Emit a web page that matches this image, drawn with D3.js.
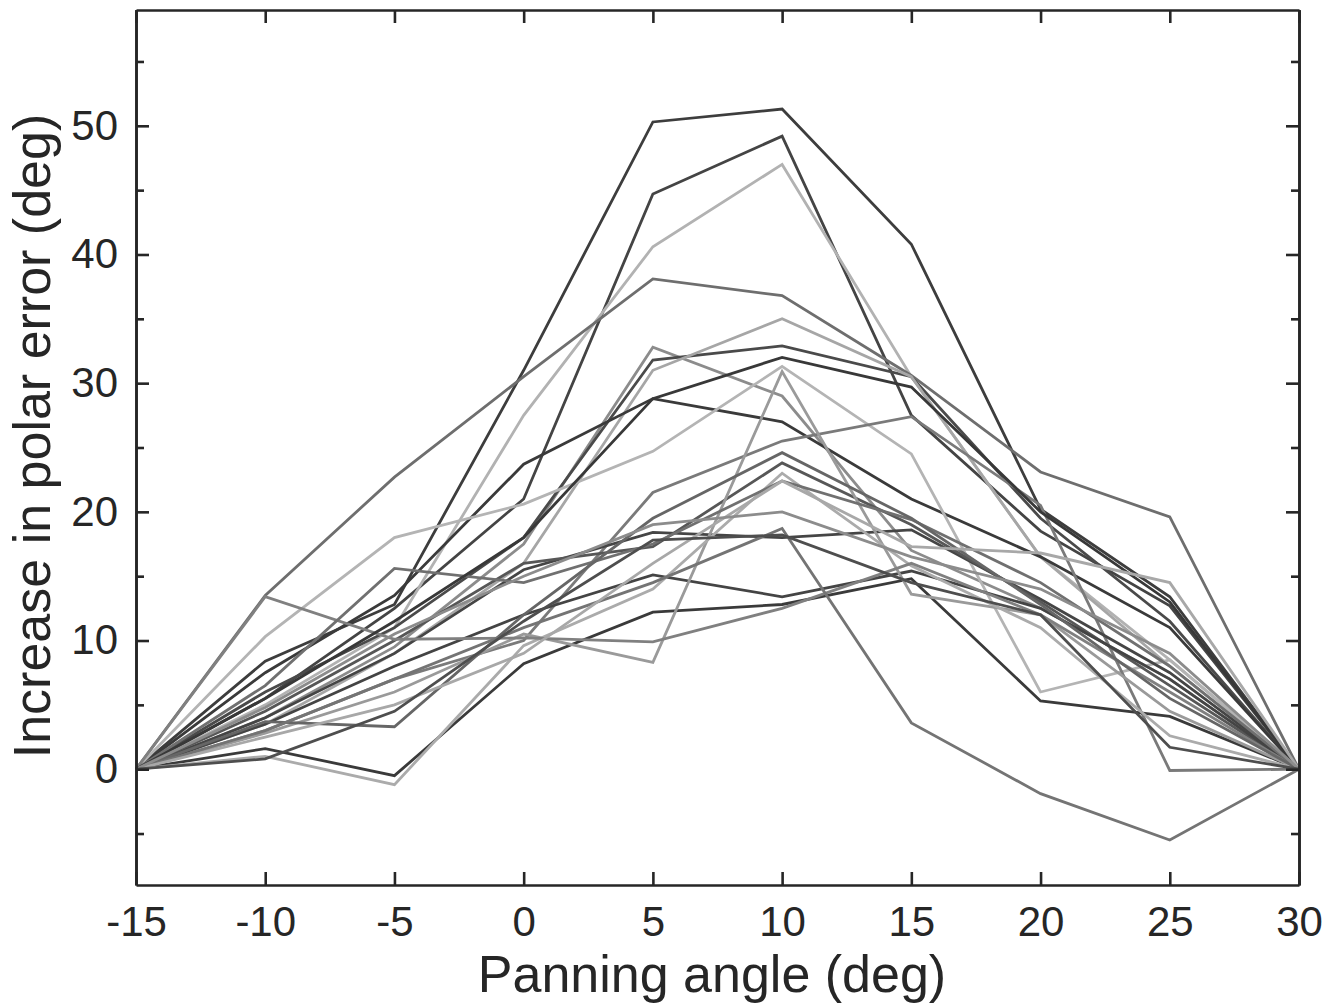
<!DOCTYPE html>
<html>
<head>
<meta charset="utf-8">
<script src="https://cdn.jsdelivr.net/npm/d3@7"></script>
<style>
  body { margin: 0; background: #fff; }
  svg { display: block; }
  .tick text { font-family: "Liberation Sans", Arial, sans-serif; }
</style>
</head>
<body>
<div id="chart"></div>
<script>
// panning angles (deg)
const panAngles = [-15, -10, -5, 0, 5, 10, 15, 20, 25, 30];

// increase in polar error per listener (deg), one row per line
const s01 = [0, 8.4, 12.8, 31.0, 50.3, 51.3, 40.8, 20.2, 13.4, 0];
const s02 = [0, 5.5, 12.5, 21.0, 44.7, 49.2, 27.5, 18.5, 12.7, 0];
const s03 = [0, 5.0, 11.0, 27.5, 40.6, 47.0, 30.5, 16.5, 8.5, 0];
const s04 = [0, 13.5, 22.7, 30.5, 38.1, 36.8, 30.6, 23.1, 19.6, 0];
const s05 = [0, 4.0, 9.5, 17.5, 32.8, 29.0, 17.0, 12.5, 7.0, 0];
const s06 = [0, 6.0, 11.0, 18.0, 31.8, 32.9, 30.5, 19.5, 11.5, 0];
const s07 = [0, 3.5, 9.0, 16.0, 31.0, 35.0, 30.5, 16.5, 8.0, 0];
const s08 = [0, 7.5, 13.5, 23.7, 28.8, 27.0, 21.0, 16.5, 11.0, 0];
const s09 = [0, 10.3, 18.0, 20.6, 24.7, 31.3, 24.5, 6.0, 8.5, 0];
const s10 = [0, 3.0, 7.0, 10.0, 21.5, 25.5, 27.4, 20.5, -0.1, 0];
const s11 = [0, 4.0, 9.0, 15.5, 18.4, 18.0, 18.6, 13.2, 7.5, 0];
const s12 = [0, 4.5, 10.0, 16.0, 17.3, 23.8, 19.0, 13.0, 6.5, 0];
const s13 = [0, 3.5, 8.0, 12.0, 15.1, 13.4, 15.4, 12.5, 7.0, 0];
const s14 = [0, 1.6, -0.5, 8.2, 12.2, 12.8, 14.8, 5.3, 4.1, 0];
const s15 = [0, 2.8, 6.0, 10.5, 8.3, 30.9, 13.6, 12.0, 4.5, 0];
const s16 = [0, 1.0, -1.2, 9.6, 14.0, 23.0, 15.8, 11.0, 2.6, 0];
const s17 = [0, 13.4, 10.1, 10.2, 9.9, 12.5, 16.0, 12.0, 6.0, 0];
const s18 = [0, 6.5, 15.6, 14.5, 17.5, 22.4, 19.4, 14.5, 8.0, 0];
const s19 = [0, 3.7, 3.3, 12.0, 19.5, 24.6, 19.5, 12.8, 5.5, 0];
const s20 = [0, 3.0, 7.0, 11.0, 14.5, 18.7, 3.6, -1.9, -5.5, 0];
const s21 = [0, 5.5, 11.5, 18.0, 28.8, 32.0, 29.7, 20.0, 13.0, 0];
const s22 = [0, 2.5, 5.0, 9.0, 16.0, 22.4, 17.3, 16.8, 14.5, 0];
const s23 = [0, 4.8, 10.5, 15.0, 19.0, 20.0, 16.5, 14.0, 9.0, 0];
const s24 = [0, 0.8, 4.5, 11.5, 17.8, 18.2, 14.5, 12.0, 1.7, 0];
const series = [s01, s02, s03, s04, s05, s06, s07, s08, s09, s10, s11, s12,
                s13, s14, s15, s16, s17, s18, s19, s20, s21, s22, s23, s24];

// grey level of each line
const lineGreys = ["#3d3d3d", "#444444", "#b2b2b2", "#6e6e6e", "#8c8c8c", "#4a4a4a",
                   "#a6a6a6", "#3a3a3a", "#b4b4b4", "#7a7a7a", "#454545", "#575757",
                   "#444444", "#3a3a3a", "#9a9a9a", "#ababab", "#808080", "#707070",
                   "#666666", "#747474", "#383838", "#a8a8a8", "#8c8c8c", "#4e4e4e"];

const xTicks = [-15, -10, -5, 0, 5, 10, 15, 20, 25, 30];
const yTicks = [0, 10, 20, 30, 40, 50];
const yMinorTicks = [-5, 5, 15, 25, 35, 45, 55];

const width = 1334, height = 1004;
const margin = {top: 10, right: 35, bottom: 119, left: 136};
const axisColor = "#262626";
const font = '"Liberation Sans", Arial, Helvetica, sans-serif';

let svg = d3.select("#chart").append("svg")
    .attr("width", width)
    .attr("height", height);

let x = d3.scaleLinear().domain([-15, 30]).range([margin.left, width - margin.right]);
let y = d3.scaleLinear().domain([-9, 59]).range([height - margin.bottom, margin.top]);

let line = d3.line()
    .x((d, i) => x(panAngles[i]))
    .y(d => y(d));

svg.append("g").attr("id", "lines")
    .selectAll("path")
    .data(series)
    .join("path")
    .attr("d", line)
    .attr("fill", "none")
    .attr("stroke", (d, i) => lineGreys[i])
    .attr("stroke-width", 2.8)
    .attr("stroke-linejoin", "miter");

// plain hyphen for negatives, like the original
let tickFmt = d => String(d);

// box axes with inward ticks
function styleAxis(g) {
    g.select(".domain").attr("stroke", axisColor).attr("stroke-width", 2.6);
    g.selectAll(".tick line").attr("stroke", axisColor).attr("stroke-width", 2.6);
    g.selectAll(".tick text")
        .attr("fill", axisColor)
        .style("font-family", font)
        .style("font-size", "42px");
}

svg.append("g")
    .attr("transform", `translate(0,${y(-9)})`)
    .call(d3.axisBottom(x).tickValues(xTicks).tickSize(-13).tickPadding(21).tickSizeOuter(0).tickFormat(tickFmt))
    .call(styleAxis);

svg.append("g")
    .attr("transform", `translate(0,${y(59)})`)
    .call(d3.axisTop(x).tickValues(xTicks).tickSize(-13).tickSizeOuter(0).tickFormat(""))
    .call(styleAxis);

svg.append("g")
    .attr("transform", `translate(${x(-15)},0)`)
    .call(d3.axisLeft(y).tickValues(yTicks).tickSize(-13).tickPadding(18).tickSizeOuter(0).tickFormat(tickFmt))
    .call(styleAxis);

svg.append("g")
    .attr("transform", `translate(${x(30)},0)`)
    .call(d3.axisRight(y).tickValues(yTicks).tickSize(-13).tickSizeOuter(0).tickFormat(""))
    .call(styleAxis);

// minor ticks on the y axes
svg.append("g")
    .attr("transform", `translate(${x(-15)},0)`)
    .call(d3.axisLeft(y).tickValues(yMinorTicks).tickSize(-8).tickSizeOuter(0).tickFormat(""))
    .call(styleAxis);

svg.append("g")
    .attr("transform", `translate(${x(30)},0)`)
    .call(d3.axisRight(y).tickValues(yMinorTicks).tickSize(-8).tickSizeOuter(0).tickFormat(""))
    .call(styleAxis);

svg.append("text")
    .attr("x", 712)
    .attr("y", 992)
    .attr("text-anchor", "middle")
    .attr("fill", axisColor)
    .style("font-family", font)
    .style("font-size", "52px")
    .text("Panning angle (deg)");

svg.append("text")
    .attr("transform", "translate(50,436) rotate(-90)")
    .attr("text-anchor", "middle")
    .attr("fill", axisColor)
    .style("font-family", font)
    .style("font-size", "52px")
    .text("Increase in polar error (deg)");
</script>
</body>
</html>
